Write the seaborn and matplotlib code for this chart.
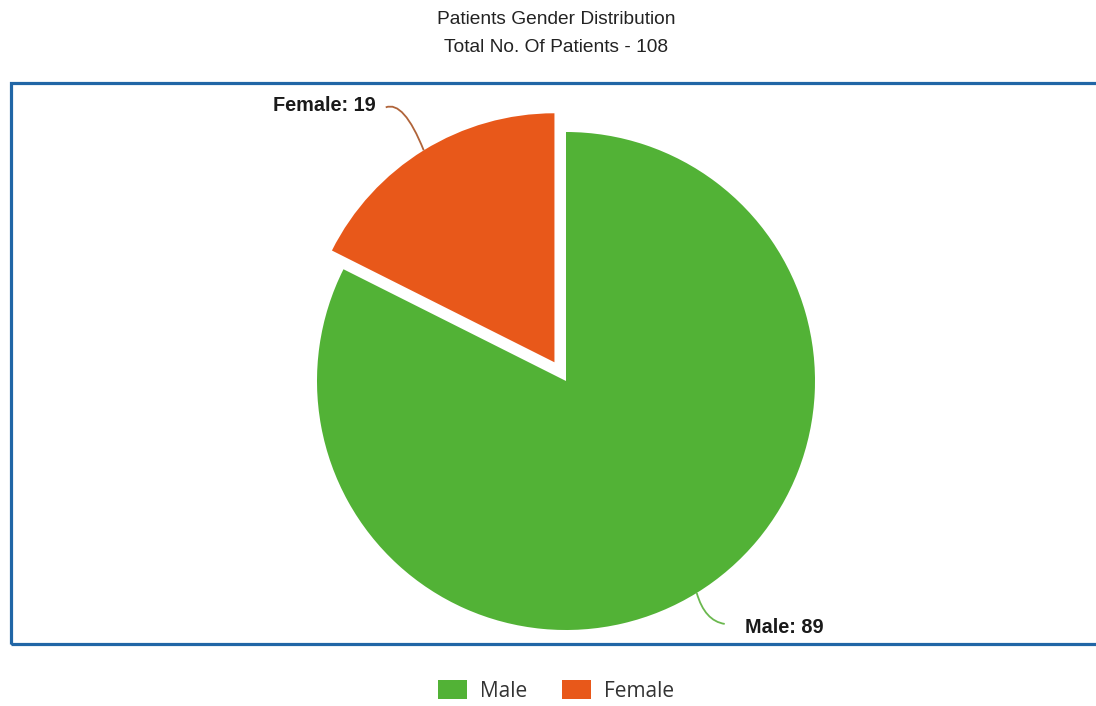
import numpy as np
import matplotlib
matplotlib.use("Agg")
import matplotlib.pyplot as plt
import matplotlib.patches as mpatches
from matplotlib.path import Path
import seaborn as sns

# Patient counts by gender
genders = ["Male", "Female"]
counts = [89, 19]
colors = ["#52b236", "#e8581a"]
leader_colors = ["#6bb84f", "#b0643a"]
title_lines = ["Patients Gender Distribution", "Total No. Of Patients - 108"]

sns.set_theme(style="white")
plt.rcParams["font.family"] = ["Liberation Sans", "DejaVu Sans"]

W, H = 1096, 706
fig = plt.figure(figsize=(W / 100, H / 100), dpi=100)
fig.patch.set_facecolor("white")

# Full-figure axes in pixel units (y measured upward)
ax = fig.add_axes([0, 0, 1, 1])

cx, cy, radius = 566, H - 381, 249
wedges, _ = ax.pie(counts, colors=colors, startangle=90, counterclock=False,
                   explode=[0, 22], radius=radius, center=(cx, cy),
                   wedgeprops=dict(linewidth=0), frame=True)
ax.set_xlim(0, W)
ax.set_ylim(0, H)
ax.set_aspect("equal")
ax.axis("off")

# Frame around the plot area
frame = mpatches.Rectangle((10.5, H - 643.5), 1100, 561, fill=False,
                           edgecolor="#2166a6", linewidth=2.3, zorder=1,
                           clip_on=False)
ax.add_patch(frame)

# Slice labels with curved leader lines from the mid-angle of each wedge.
# Each spec: (control offset, end offset, text gap, horizontal alignment)
label_specs = [
    ((8, -28), (28, -31), 20, "left"),
    ((-20, 50), (-38, 43), -10, "right"),
]
for wedge, name, val, lc, (ctrl, end, gap, ha) in zip(
        wedges, genders, counts, leader_colors, label_specs):
    mid = np.deg2rad(0.5 * (wedge.theta1 + wedge.theta2))
    wx, wy = wedge.center
    p0 = np.array([wx + radius * np.cos(mid), wy + radius * np.sin(mid)])
    p1 = p0 + np.array(ctrl)
    p2 = p0 + np.array(end)
    path = Path([p0, p1, p2], [Path.MOVETO, Path.CURVE3, Path.CURVE3])
    ax.add_patch(mpatches.PathPatch(path, fill=False, edgecolor=lc, lw=1.3,
                                    zorder=3))
    ax.text(p2[0] + gap, p2[1] - (4 if ha == "left" else -2),
            f"{name}: {val}", ha=ha, va="center", fontsize=14.3,
            fontweight="bold", color="#1a1a1a", zorder=4)

# Two-line title
fig.text(556 / W, 1 - 19 / H, title_lines[0], ha="center", va="center",
         fontsize=13.8, color="#222222")
fig.text(556 / W, 1 - 48 / H, title_lines[1], ha="center", va="center",
         fontsize=13.8, color="#222222")

# Legend below the frame
handles = [mpatches.Patch(facecolor=c, edgecolor="none", label=g)
           for g, c in zip(genders, colors)]
fig.legend(handles=handles, loc="center", bbox_to_anchor=(556 / W, 15 / H),
           ncol=2, frameon=False, borderpad=0,
           handlelength=1.4, handleheight=1.0, handletextpad=0.6,
           columnspacing=1.7,
           prop={"family": ["Open Sans", "DejaVu Sans"], "size": 15},
           labelcolor="#333333")

fig.savefig("out.png", dpi=100, facecolor="white")
